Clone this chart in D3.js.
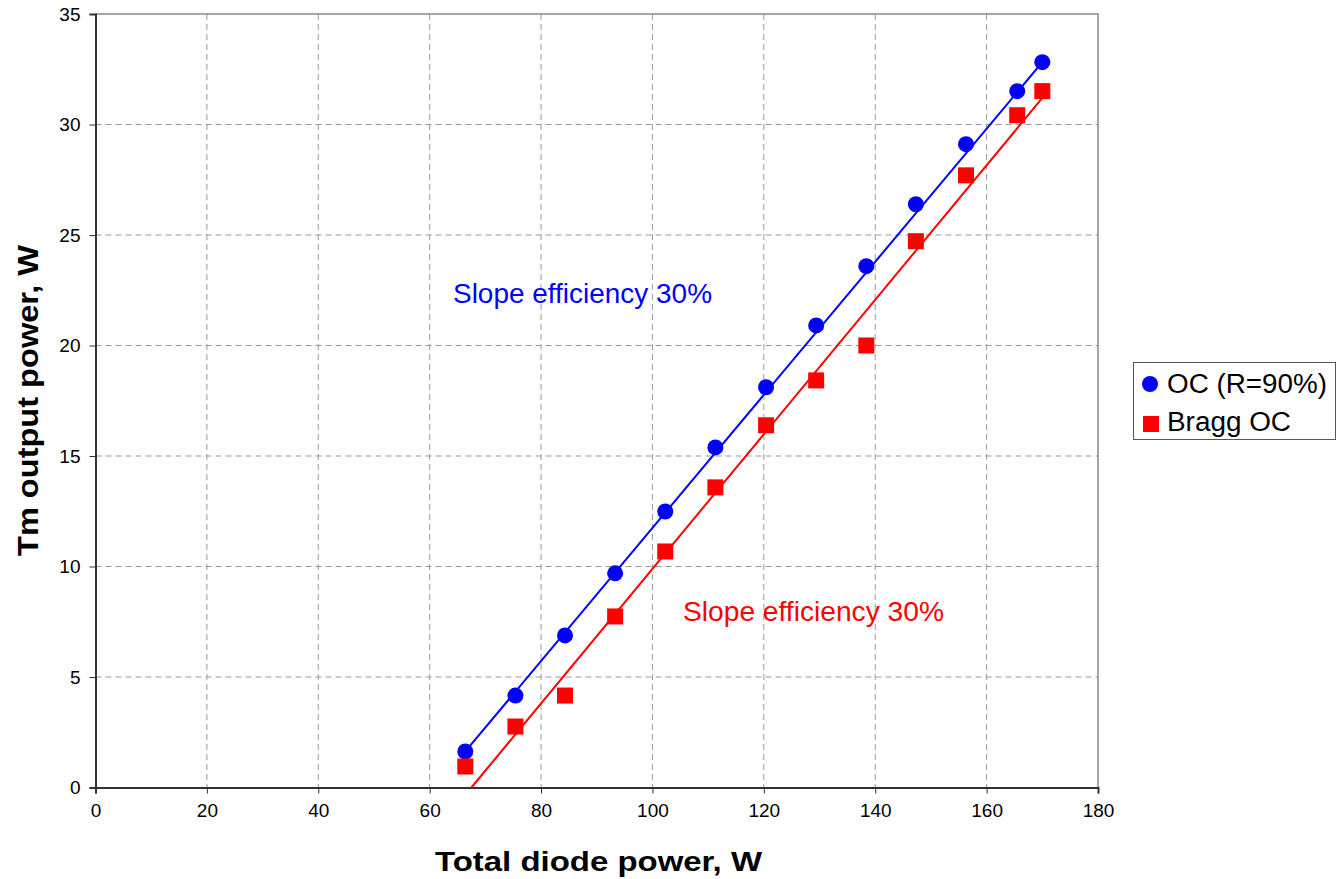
<!DOCTYPE html>
<html><head><meta charset="utf-8">
<script src="https://cdn.jsdelivr.net/npm/d3@7"></script>
<style>body{margin:0;background:#fff}svg{display:block;font-family:"Liberation Sans",Arial,sans-serif}</style>
</head><body><svg id="c" width="1337" height="879"></svg>
<script>
const xTicks = [0,20,40,60,80,100,120,140,160,180];
const yTicks = [0,5,10,15,20,25,30,35];
const ocX = [66.4,75.4,84.3,93.3,102.3,111.3,120.4,129.4,138.4,147.3,156.3,165.5,170.0];
const ocY = [1.63,4.16,6.88,9.69,12.49,15.39,18.11,20.91,23.59,26.39,29.11,31.51,32.82];
const braggX = [66.4,75.4,84.3,93.3,102.3,111.3,120.4,129.4,138.4,147.3,156.3,165.5,170.0];
const braggY = [0.95,2.76,4.16,7.74,10.68,13.58,16.39,18.42,20.0,24.72,27.7,30.42,31.51];
const ocFitX = [66.4,170.0];
const ocFitY = [1.63,32.82];
const braggFitX = [67.5,170.0];
const braggFitY = [0,31.2];
const seriesNames = ["OC (R=90%)","Bragg OC"];
const annText = "Slope efficiency 30%";

const svg = d3.select("#c");
const L=95.5, R=1098, T=14, B=787.5;
const x = d3.scaleLinear().domain([0,180]).range([L,R]);
const y = d3.scaleLinear().domain([0,35]).range([B,T]);

// grid
svg.append("g").selectAll("line").data(xTicks.filter(d=>d>0&&d<180)).join("line")
  .attr("x1",d=>x(d)).attr("x2",d=>x(d)).attr("y1",T).attr("y2",B)
  .attr("stroke","#999").attr("stroke-dasharray","6,4").attr("stroke-width",1);
svg.append("g").selectAll("line").data(yTicks.filter(d=>d>0&&d<35)).join("line")
  .attr("y1",d=>y(d)).attr("y2",d=>y(d)).attr("x1",L).attr("x2",R)
  .attr("stroke","#999").attr("stroke-dasharray","6,4").attr("stroke-width",1);
// border top/right
svg.append("path").attr("d",`M${L},${T}H${R}V${B}`).attr("fill","none").attr("stroke","#888").attr("stroke-width",1.5);

// axes
const xa = svg.append("g").attr("transform",`translate(0,${B})`)
  .call(d3.axisBottom(x).tickValues(xTicks).tickSize(6).tickPadding(10).tickFormat(d3.format("d")));
const ya = svg.append("g").attr("transform",`translate(${L},0)`)
  .call(d3.axisLeft(y).tickValues(yTicks).tickSize(6).tickPadding(9).tickFormat(d3.format("d")));
[xa,ya].forEach(a=>{
  a.select(".domain").attr("stroke","#333").attr("stroke-width",2);
  a.selectAll(".tick line").attr("stroke","#333");
  a.selectAll("text").attr("font-size",19).attr("fill","#000").attr("font-family","Liberation Sans, Arial, sans-serif");
});

// fit lines
const line = d3.line().x(d=>x(d[0])).y(d=>y(d[1]));
svg.append("path").attr("d",line(ocFitX.map((v,i)=>[v,ocFitY[i]]))).attr("stroke","#0000ff").attr("stroke-width",2).attr("fill","none");
svg.append("path").attr("d",line(braggFitX.map((v,i)=>[v,braggFitY[i]]))).attr("stroke","#ff0000").attr("stroke-width",2).attr("fill","none");

// markers
svg.append("g").selectAll("circle").data(ocX.map((v,i)=>[v,ocY[i]])).join("circle")
  .attr("cx",d=>x(d[0])).attr("cy",d=>y(d[1])).attr("r",8).attr("fill","#0000ff");
const s=16;
svg.append("g").selectAll("rect").data(braggX.map((v,i)=>[v,braggY[i]])).join("rect")
  .attr("x",d=>x(d[0])-s/2).attr("y",d=>y(d[1])-s/2).attr("width",s).attr("height",s).attr("fill","#ff0000");

// annotations
svg.append("text").attr("x",453).attr("y",303).attr("font-size",28).attr("textLength",259).attr("lengthAdjust","spacingAndGlyphs").attr("fill","#0000ff").text(annText);
svg.append("text").attr("x",683).attr("y",621).attr("font-size",28).attr("textLength",261).attr("lengthAdjust","spacingAndGlyphs").attr("fill","#ff0000").text(annText);

// axis titles
svg.append("text").attr("x",435).attr("y",871).attr("font-size",27).attr("font-weight","bold")
  .attr("textLength",327).attr("lengthAdjust","spacingAndGlyphs").text("Total diode power, W");
svg.append("text").attr("transform","translate(38,556) rotate(-90)").attr("font-size",30).attr("font-weight","bold")
  .attr("textLength",311).attr("lengthAdjust","spacingAndGlyphs").text("Tm output power, W");

// legend
const lg = svg.append("g");
lg.append("rect").attr("x",1133.5).attr("y",362.5).attr("width",202).attr("height",77).attr("fill","#fff").attr("stroke","#555").attr("stroke-width",1);
lg.append("circle").attr("cx",1150).attr("cy",384).attr("r",8).attr("fill","#0000ff");
lg.append("rect").attr("x",1143).attr("y",416).attr("width",16).attr("height",16).attr("fill","#ff0000");
lg.append("text").attr("x",1167).attr("y",393).attr("font-size",27).attr("textLength",160).attr("lengthAdjust","spacingAndGlyphs").text(seriesNames[0]);
lg.append("text").attr("x",1167).attr("y",431).attr("font-size",27).attr("textLength",124).attr("lengthAdjust","spacingAndGlyphs").text(seriesNames[1]);
</script></body></html>
